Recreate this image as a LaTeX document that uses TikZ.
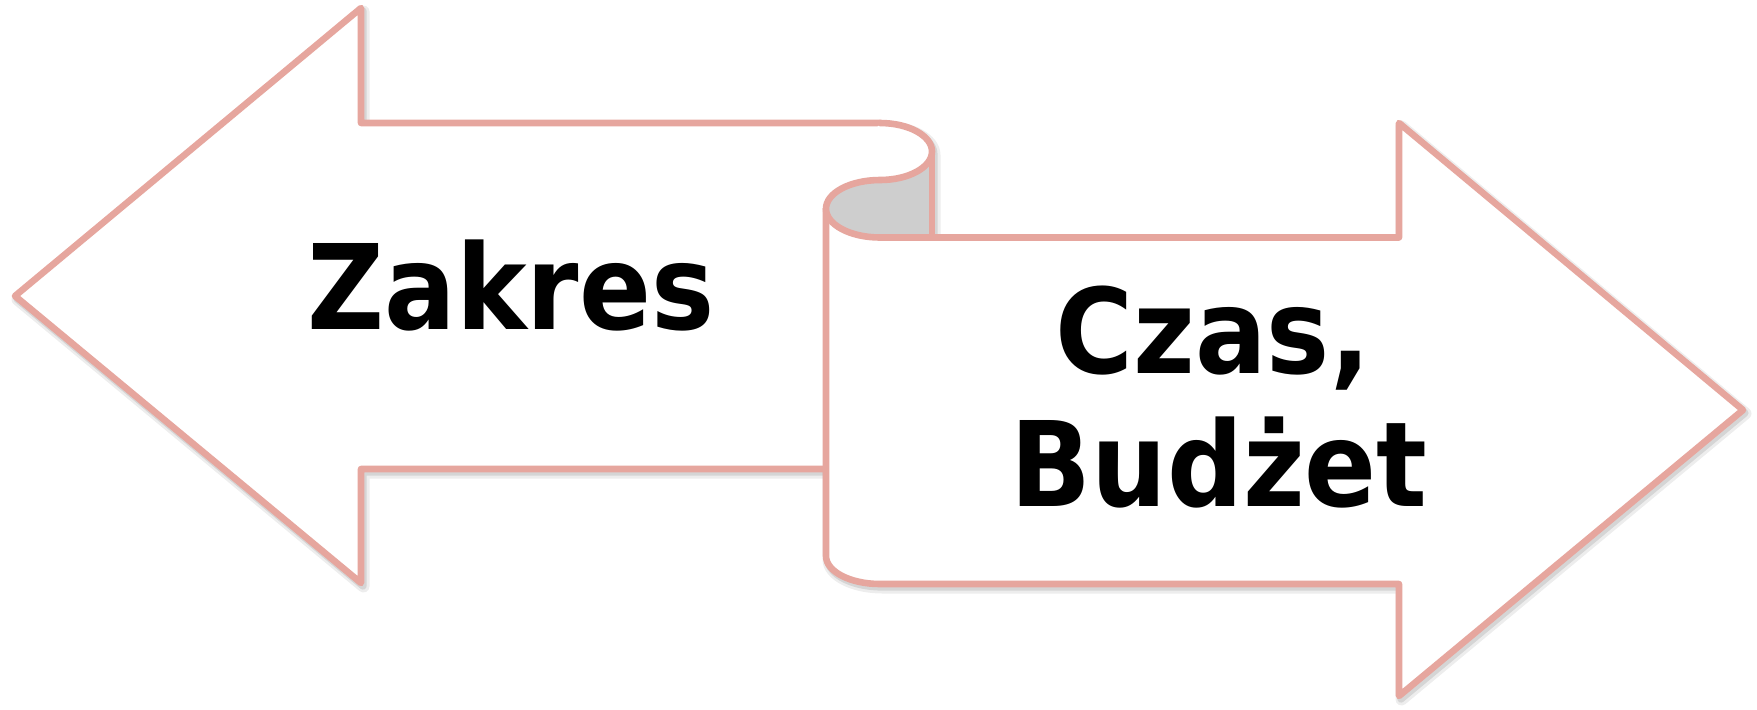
\documentclass[tikz,border=0pt]{standalone}
\usepackage{fontspec}
\setmainfont{DejaVu Sans Condensed}
\begin{document}
\begin{tikzpicture}[x=0.5pt,y=-0.5pt,
  outline/.style={draw=arrowpink,line width=3.3pt,line join=round,line cap=round},
  shadeA/.style={draw=black,opacity=0.07,line width=6pt,line join=round,line cap=round,shift={(2.5,3.5)}},
  shadeB/.style={draw=black,opacity=0.10,line width=3.6pt,line join=round,line cap=round,shift={(2,3)}},
  label/.style={font=\fontsize{59}{66}\selectfont\bfseries,inner sep=0pt,anchor=base}]
\definecolor{arrowpink}{RGB}{230,166,158}
\definecolor{curlgray}{RGB}{206,206,206}
\useasboundingbox (0,0) rectangle (1757,709);

% soft drop shadows of the outlines
\foreach \s in {shadeA,shadeB}{
  \draw[\s] (880,123) -- (361,123) -- (361,8) -- (15,296) -- (361,583) -- (361,469) -- (826,469);
  \draw[\s] (826,208.75) -- (826,556) .. controls (826,571.5) and (850.2,584) .. (880,584)
    -- (1399,584) -- (1399,696) -- (1743,410) -- (1399,123) -- (1399,237.5) -- (932,237.5);
  \draw[\s] (880,123) .. controls (908.7,123) and (932,135.8) .. (932,151.5) -- (932,237.5);
}

% left arrow
\draw[outline,fill=white] (880,123) -- (361,123) -- (361,8) -- (15,296) -- (361,583)
  -- (361,469) -- (826,469);

% right arrow drawn as an unrolled scroll
\fill[white] (826,208.75) -- (826,556) .. controls (826,571.5) and (850.2,584) .. (880,584)
  -- (1399,584) -- (1399,696) -- (1743,410) -- (1399,123) -- (1399,237.5) -- (932,237.5)
  -- (932,151.5) .. controls (932,135.8) and (908.7,123) .. (880,123) -- cycle;
\draw[outline] (826,208.75) -- (826,556) .. controls (826,571.5) and (850.2,584) .. (880,584)
  -- (1399,584) -- (1399,696) -- (1743,410) -- (1399,123) -- (1399,237.5) -- (932,237.5);

% rolled-up curl with its shaded underside
\fill[curlgray] (880,180) .. controls (850.2,180) and (826,192.9) .. (826,208.75)
  .. controls (826,224.6) and (850.2,237.5) .. (880,237.5) -- (932,237.5) -- (932,151.5)
  .. controls (932,167.2) and (908.7,180) .. (880,180) -- cycle;
\draw[outline] (880,123) .. controls (908.7,123) and (932,135.8) .. (932,151.5)
  .. controls (932,167.2) and (908.7,180) .. (880,180)
  .. controls (850.2,180) and (826,192.9) .. (826,208.75)
  .. controls (826,224.6) and (850.2,237.5) .. (880,237.5) -- (932,237.5);
\draw[outline] (932,151.5) -- (932,237.5);

% labels
\node[label] (zakres) at (511,329) {Zakres};
\node[label] (czas) at (1213,373) {Czas,};
\node[label] (budzet) at (1219,506) {Budżet};
\end{tikzpicture}
\end{document}
